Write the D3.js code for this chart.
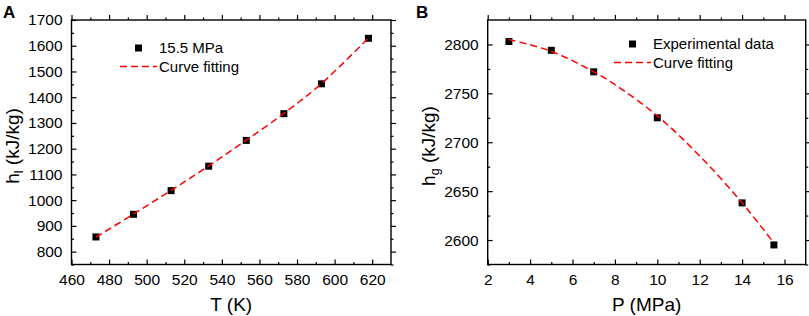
<!DOCTYPE html>
<html>
<head>
<meta charset="utf-8">
<title>Enthalpy fits</title>
<style>
  body {margin: 0; background: #fff;}
  svg text {font-family: "Liberation Sans", Arial, sans-serif; fill: #000;}
</style>
</head>
<body>
<div id="chart"></div>
<script src="https://d3js.org/d3.v7.min.js"></script>
<script>
// panel A : saturated liquid enthalpy at 15.5 MPa
var tempK = [473, 493, 513, 533, 553, 573, 593, 618];
var hLiquid = [857, 945, 1037, 1132, 1232, 1336, 1452, 1629];
var fitTempK = [473, 493, 513, 533, 553, 573, 593, 618];
var fitHLiquid = [856, 946, 1038, 1133, 1233, 1337, 1453, 1630];
var tempTicks = [460, 480, 500, 520, 540, 560, 580, 600, 620];
var hLiquidTicks = [800, 900, 1000, 1100, 1200, 1300, 1400, 1500, 1600, 1700];

// panel B : saturated vapour enthalpy vs pressure
var pressure = [3, 5, 7, 10, 14, 15.5];
var hVapor = [2803, 2794, 2772, 2725, 2638, 2595];
var fitPressure = [3, 5, 7, 8, 10, 12, 14, 15.5];
var fitHVapor = [2805, 2793, 2772, 2759, 2727, 2686, 2638, 2597];
var pressureTicks = [2, 4, 6, 8, 10, 12, 14, 16];
var hVaporTicks = [2600, 2650, 2700, 2750, 2800];

var W = 809, H = 316;
var svg = d3.select("#chart").append("svg")
    .attr("width", W).attr("height", H);

function panel(opt) {
    var x = d3.scaleLinear().domain(opt.xDomain).range([opt.left, opt.right]);
    var y = d3.scaleLinear().domain(opt.yDomain).range([opt.bottom, opt.top]);
    var g = svg.append("g");

    // ticks, all pointing inward, mirrored on top/right
    function ticks(axis, pos, vals, size, labels) {
        var a = axis.tickValues(vals).tickSizeInner(-size).tickSizeOuter(0).tickPadding(size > 4 ? 9 : 0);
        a.tickFormat(labels ? d3.format("d") : "");
        var ag = g.append("g").attr("transform", pos).call(a);
        ag.select(".domain").remove();
        ag.selectAll("line").attr("stroke", "#000").attr("stroke-width", 1.2);
        ag.selectAll("text").style("font-size", "15.5px").attr("fill", "#000");
        return ag;
    }
    ticks(d3.axisBottom(x), "translate(0," + opt.bottom + ")", opt.xTicks, 5, true);
    ticks(d3.axisBottom(x), "translate(0," + opt.bottom + ")", opt.xMinor, 2.5, false);
    ticks(d3.axisTop(x), "translate(0," + opt.top + ")", opt.xTicks, -5, false);
    ticks(d3.axisTop(x), "translate(0," + opt.top + ")", opt.xMinor, -2.5, false);
    ticks(d3.axisLeft(y), "translate(" + opt.left + ",0)", opt.yTicks, 5, true);
    ticks(d3.axisLeft(y), "translate(" + opt.left + ",0)", opt.yMinor, 2.5, false);
    ticks(d3.axisRight(y), "translate(" + opt.right + ",0)", opt.yTicks, -5, false);
    ticks(d3.axisRight(y), "translate(" + opt.right + ",0)", opt.yMinor, -2.5, false);

    g.append("rect")
        .attr("x", opt.left).attr("y", opt.top)
        .attr("width", opt.right - opt.left).attr("height", opt.bottom - opt.top)
        .attr("fill", "none").attr("stroke", "#000").attr("stroke-width", 1.4);

    // points
    g.selectAll("rect.pt").data(opt.px.map((v, i) => [v, opt.py[i]]))
        .join("rect").attr("class", "pt")
        .attr("x", d => x(d[0]) - 3.5).attr("y", d => y(d[1]) - 3.5)
        .attr("width", 7).attr("height", 7).attr("fill", "#000");

    // fitted curve
    var line = d3.line().x(d => x(d[0])).y(d => y(d[1])).curve(d3.curveCatmullRom);
    g.append("path").datum(opt.fx.map((v, i) => [v, opt.fy[i]]))
        .attr("d", line).attr("fill", "none")
        .attr("stroke", "#ff0000").attr("stroke-width", 1.5)
        .attr("stroke-dasharray", "7,4");

    // legend
    var lg = opt.legend;
    g.append("rect").attr("x", lg.x + 18.5 - 3.5).attr("y", lg.y - 3.5)
        .attr("width", 7).attr("height", 7).attr("fill", "#000");
    g.append("text").attr("x", lg.x + 39).attr("y", lg.y + 5.3)
        .style("font-size", "15px").text(lg.label);
    g.append("line").attr("x1", lg.x).attr("x2", lg.x + 37)
        .attr("y1", lg.y + 18.5).attr("y2", lg.y + 18.5)
        .attr("stroke", "#ff0000").attr("stroke-width", 1.5).attr("stroke-dasharray", "7,4");
    g.append("text").attr("x", lg.x + 39).attr("y", lg.y + 24)
        .style("font-size", "15px").text("Curve fitting");

    // axis titles
    g.append("text").attr("x", (opt.left + opt.right) / 2).attr("y", 310.5)
        .attr("text-anchor", "middle").style("font-size", "19px").text(opt.xTitle);
    var yt = g.append("text")
        .attr("transform", "translate(" + opt.yTitleX + ",146) rotate(-90)")
        .attr("text-anchor", "middle").style("font-size", "19px");
    yt.append("tspan").text("h");
    yt.append("tspan").attr("dy", 4).style("font-size", "12.5px").text(opt.sub);
    yt.append("tspan").attr("dy", -4).text(" (kJ/kg)");

    // panel letter
    g.append("text").attr("x", opt.letterX).attr("y", 17.5)
        .style("font-size", "17px").style("font-weight", "bold").text(opt.letter);
}

panel({
    left: 71.5, right: 391, top: 20, bottom: 264.5,
    xDomain: [460, 630], yDomain: [750, 1700],
    xTicks: tempTicks, xMinor: d3.range(470, 630, 20),
    yTicks: hLiquidTicks, yMinor: d3.range(750, 1700, 100),
    px: tempK, py: hLiquid, fx: fitTempK, fy: fitHLiquid,
    legend: {x: 120, y: 48, label: "15.5 MPa"},
    xTitle: "T (K)", sub: "l", yTitleX: 18.5,
    letter: "A", letterX: 3
});

panel({
    left: 487.7, right: 805.7, top: 20, bottom: 264.5,
    xDomain: [2, 17], yDomain: [2575, 2825],
    xTicks: pressureTicks, xMinor: d3.range(3, 17, 2),
    yTicks: hVaporTicks, yMinor: d3.range(2575, 2825, 50),
    px: pressure, py: hVapor, fx: fitPressure, fy: fitHVapor,
    legend: {x: 614, y: 44, label: "Experimental data"},
    xTitle: "P (MPa)", sub: "g", yTitleX: 434.5,
    letter: "B", letterX: 416
});
</script>
</body>
</html>
